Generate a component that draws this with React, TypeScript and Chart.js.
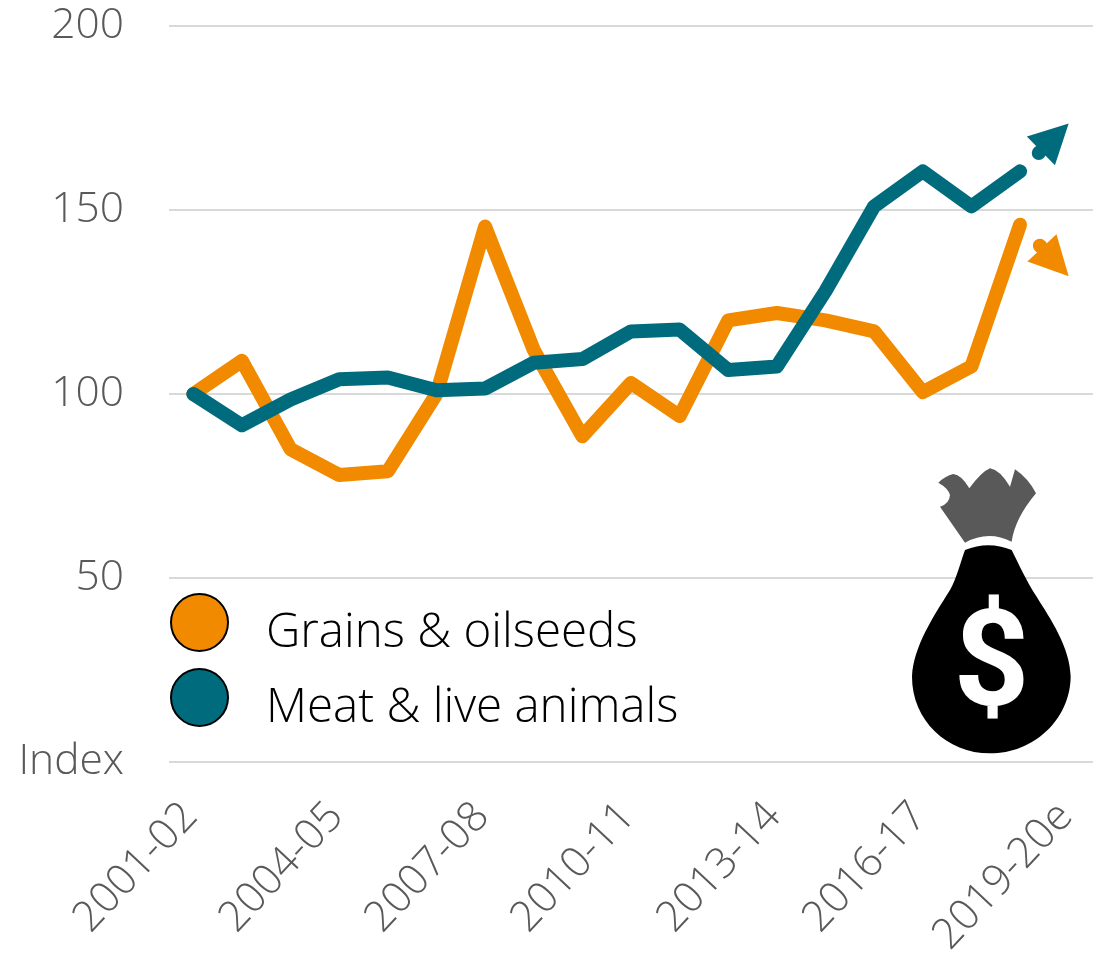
import React, { useEffect, useRef } from "react";
import { Chart, registerables } from "chart.js";

Chart.register(...registerables);

const categories = [
  "2001-02", "2002-03", "2003-04", "2004-05", "2005-06", "2006-07", "2007-08",
  "2008-09", "2009-10", "2010-11", "2011-12", "2012-13", "2013-14", "2014-15",
  "2015-16", "2016-17", "2017-18", "2018-19", "2019-20e",
];
const grains = [100, 109, 85, 78, 79, 100, 145.5, 112, 88.5, 103, 94, 120, 122, 120, 117, 100.5, 107.5, 146];
const meat = [100, 91.5, 98.5, 104, 104.5, 101, 101.5, 108.5, 109.5, 117, 117.5, 106.5, 107.5, 128, 151, 160.5, 151, 160.5];
const grainsForecast = 132;
const meatForecast = 173.5;
const ORANGE = "#F28A00";
const TEAL = "#006B7D";
const GREY = "#595959";
const FONT = '"Open Sans", sans-serif';

const arrowPlugin = {
  id: "forecastArrows",
  afterDatasetsDraw(chart: any) {
    const { x, y } = chart.scales;
    const ctx = chart.ctx;
    const draw = (series: number[], target: number, color: string) => {
      const n = series.length;
      const x0 = x.getPixelForValue(n - 1);
      const y0 = y.getPixelForValue(series[n - 1]);
      const x1 = x.getPixelForValue(n);
      const y1 = y.getPixelForValue(target);
      const len = Math.hypot(x1 - x0, y1 - y0);
      const ux = (x1 - x0) / len;
      const uy = (y1 - y0) / len;
      const headLen = 39;
      const half = 20;
      const bx = x1 - ux * headLen;
      const by = y1 - uy * headLen;
      ctx.save();
      ctx.strokeStyle = color;
      ctx.fillStyle = color;
      ctx.lineWidth = 14;
      ctx.lineCap = "round";
      ctx.beginPath();
      ctx.moveTo(x1 - ux * 42, y1 - uy * 42);
      ctx.lineTo(x1 - ux * 41, y1 - uy * 41);
      ctx.stroke();
      ctx.beginPath();
      ctx.moveTo(x1, y1);
      ctx.lineTo(bx - uy * half, by + ux * half);
      ctx.lineTo(bx + uy * half, by - ux * half);
      ctx.closePath();
      ctx.fill();
      ctx.restore();
    };
    draw(grains, grainsForecast, ORANGE);
    draw(meat, meatForecast, TEAL);
  },
};

const legendItems = [
  { label: "Grains & oilseeds", color: ORANGE, top: 593 },
  { label: "Meat & live animals", color: TEAL, top: 668 },
];

export default function App() {
  const ref = useRef<HTMLCanvasElement>(null);
  useEffect(() => {
    document.body.style.margin = "0";
    const chart = new Chart(ref.current!, {
      type: "line",
      data: {
        labels: categories,
        datasets: [
          { label: "Grains & oilseeds", data: grains, borderColor: ORANGE, order: 2 },
          { label: "Meat & live animals", data: meat, borderColor: TEAL, order: 1 },
        ],
      },
      options: {
        responsive: false,
        animation: false,
        layout: { autoPadding: false, padding: { top: 26, right: 9, left: 0, bottom: 0 } },
        elements: {
          line: { borderWidth: 14, tension: 0, borderCapStyle: "round", borderJoinStyle: "round" },
          point: { radius: 0 },
        },
        plugins: { legend: { display: false }, tooltip: { enabled: false } },
        scales: {
          x: {
            offset: true,
            grid: { display: false },
            border: { display: false },
            afterFit(s: any) { s.height = 193; s.paddingLeft = 0; s.paddingRight = 0; s.paddingTop = 0; s.paddingBottom = 0; },
            ticks: {
              autoSkip: false,
              maxRotation: 47,
              minRotation: 47,
              padding: 22,
              labelOffset: -3,
              color: GREY,
              font: { family: FONT, size: 42.5, weight: "300" },
              callback(_: any, i: number) { return i % 3 === 0 ? categories[i] : ""; },
            },
          },
          y: {
            min: 0,
            max: 200,
            border: { display: false },
            grid: { color: "#D9D9D9", lineWidth: 2, drawTicks: false },
            afterFit(s: any) { s.width = 169; s.paddingLeft = 0; s.paddingRight = 0; s.paddingTop = 0; s.paddingBottom = 0; },
            ticks: {
              stepSize: 50,
              padding: 45,
              color: GREY,
              font: { family: FONT, size: 42.5, weight: "300" },
              callback(v: any) { return v === 0 ? "Index" : String(v); },
            },
          },
        },
      } as any,
      plugins: [arrowPlugin],
    });
    return () => chart.destroy();
  }, []);

  return (
    <div style={{ position: "relative", width: 1102, height: 955, overflow: "hidden", background: "#fff" }}>
      <canvas ref={ref} width={1102} height={955} style={{ display: "block" }} />
      {legendItems.map((it) => (
        <div key={it.label} style={{ position: "absolute", left: 170, top: it.top, height: 59, display: "flex", alignItems: "center" }}>
          <span style={{ boxSizing: "border-box", width: 59, height: 59, borderRadius: "50%", background: it.color, border: "2px solid #000", display: "inline-block" }} />
          <span style={{ marginLeft: 37, position: "relative", top: 6, font: `300 47.5px ${FONT}`, color: "#000", whiteSpace: "nowrap" }}>{it.label}</span>
        </div>
      ))}
      <svg viewBox="0 0 600 960" style={{ position: "absolute", left: 890, top: 450, width: 200, height: 320 }}>
        <path fill="#595959" d="M150 170 L225 278 Q295 240 365 275 Q375 205 438 130 Q415 85 375 58 L360 110 Q330 60 300 55 Q275 65 238 115 Q215 75 190 72 Q165 78 145 98 Q175 115 180 135 Q178 162 150 170 Z" />
        <path fill="#000" d="M225 300 Q295 272 365 300 C385 340 410 395 440 440 C480 505 540 590 542 680 C540 810 430 910 300 910 C170 910 66 810 66 680 C70 590 130 500 180 420 C200 385 212 335 225 300 Z" />
        <text transform="translate(305 764) scale(1.09 1.1)" textAnchor="middle" fill="#fff" style={{ font: `700 365px Roboto, sans-serif` }}>$</text>
      </svg>
    </div>
  );
}
